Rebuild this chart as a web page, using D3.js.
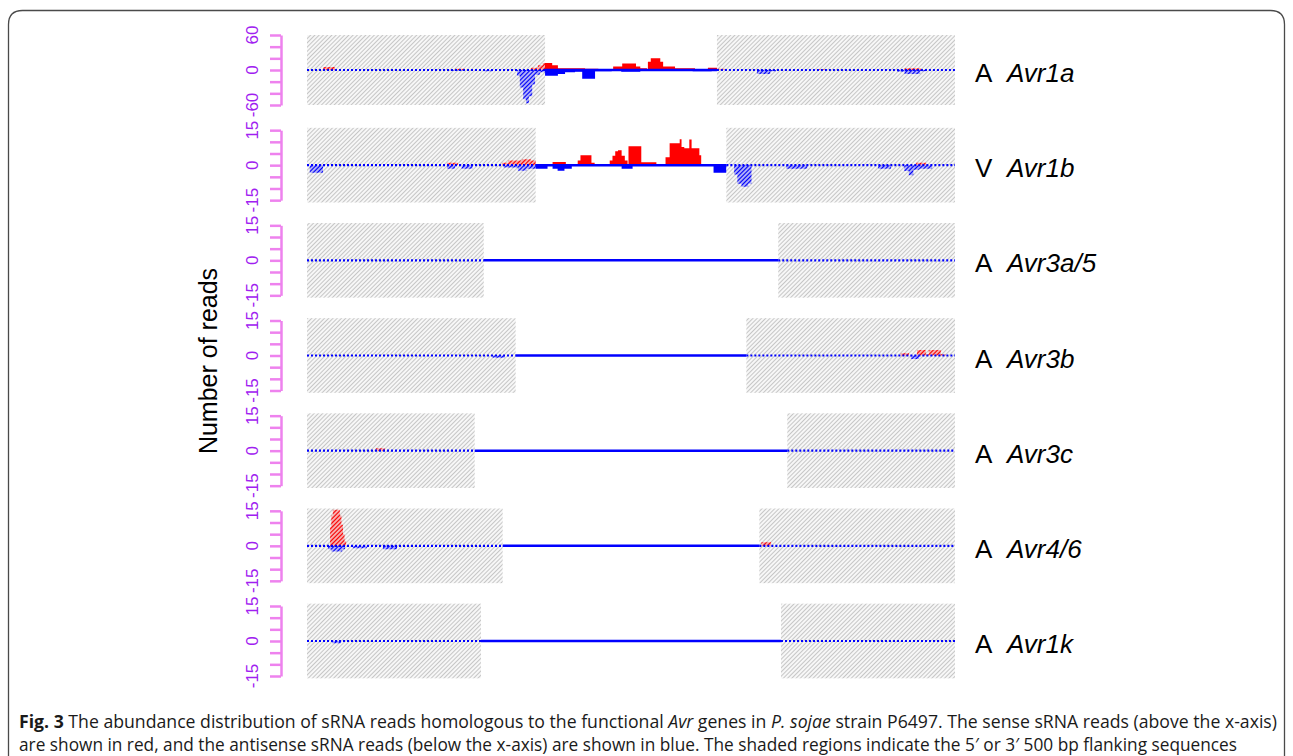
<!DOCTYPE html>
<html>
<head>
<meta charset="utf-8">
<script src="https://cdn.jsdelivr.net/npm/d3@7"></script>
<style>
  body { margin: 0; background: #fff; }
  svg { display: block; }
</style>
</head>
<body>
<div id="chart"></div>
<script>
// genes, their avirulence status and coding length (bp)
var genes = ["Avr1a", "Avr1b", "Avr3a/5", "Avr3b", "Avr3c", "Avr4/6", "Avr1k"];
var geneStatus = ["A", "V", "A", "A", "A", "A", "A"];
var geneLengths = [361, 417, 833, 553, 932, 656, 862];
var flankLength = 500;
var yMax = [60, 15, 15, 15, 15, 15, 15];
var shadeMax = [60, 16, 16, 16, 16, 16, 16];

// read profiles: [position (bp), reads] steps, sense above / antisense below the axis
var avr1aSense = [[0,0],[34,5],[59,0],[311,2],[332,0],[470,4],[485,8],[495,12],[515,8],[527,3],[584,2],[612,1],[643,6],[662,11],[691,6],[700,3],[714,1],[716,14],[722,20],[742,14],[748,6],[773,3],[815,1],[842,4],[861,2],[880,0],[1070,1],[1090,0],[1255,3],[1290,0],[1361,0]];
var avr1aAntisense = [[0,0],[300,-1],[330,0],[370,-2],[390,0],[441,-10],[447,-30],[454,-50],[460,-57],[466,-45],[473,-25],[479,-8],[489,-4],[500,-10],[527,-7],[542,-4],[563,-3],[578,-15],[605,-2],[640,-1],[660,-3],[700,-1],[810,-2],[850,-1],[861,0],[945,-7],[973,-2],[985,0],[1240,-3],[1255,-7],[1288,-2],[1300,0],[1361,0]];
var avr1bSense = [[0,0],[306,1],[330,0],[426,1],[440,2],[470,2.5],[490,2],[500,0],[537,1.4],[566,0],[592,2],[598,4.3],[622,1],[629,0],[662,2],[668,4],[674,6],[680,6.4],[688,4],[695,2],[701,0],[703,8.1],[731,1.3],[764,0],[784,3.4],[793,9.4],[815,11.1],[819,7.8],[825,7.3],[836,11],[841,7.3],[858,4.3],[862,0],[1332,1],[1354,0],[1417,0]];
var avr1bAntisense = [[0,0],[6,-3.3],[35,0],[306,-1.5],[324,0],[338,-1.5],[362,0],[430,-1],[461,-2.4],[480,-1.5],[500,-1.5],[526,0],[537,-1.5],[548,-2.4],[563,-1.5],[579,0],[688,-1.5],[712,0],[889,-3.3],[917,0],[934,-4],[941,-8],[950,-9.3],[965,-8],[972,0],[1048,-1.5],[1094,0],[1249,-1.5],[1277,0],[1306,-2.5],[1316,-4.3],[1326,-2],[1339,-1.5],[1367,0],[1417,0]];
var avr3a5Sense = [[0,0],[1833,0]];
var avr3a5Antisense = [[0,0],[588,-0.3],[1209,0],[1833,0]];
var avr3bSense = [[0,0],[1423,1],[1443,0],[1462,2.4],[1483,0.5],[1490,2.4],[1519,0.5],[1530,0],[1553,0]];
var avr3bAntisense = [[0,0],[445,-1],[474,0],[1447,-1.5],[1467,0],[1553,0]];
var avr3cSense = [[0,0],[205,1],[232,0],[1932,0]];
var avr3cAntisense = [[0,0],[1932,0]];
var avr46Sense = [[0,0],[59,8],[62,13],[66,15.5],[84,13],[88,9],[92,5],[96,2],[100,0],[1161,1.5],[1186,0],[1656,0]];
var avr46Antisense = [[0,0],[54,-1.5],[62,-2.4],[90,-1.5],[97,0],[117,-1],[153,0],[194,-1.5],[230,0],[1656,0]];
var avr1kSense = [[0,0],[1862,0]];
var avr1kAntisense = [[0,0],[72,-1],[98,0],[1862,0]];

var senseReads = [avr1aSense, avr1bSense, avr3a5Sense, avr3bSense, avr3cSense, avr46Sense, avr1kSense];
var antisenseReads = [avr1aAntisense, avr1bAntisense, avr3a5Antisense, avr3bAntisense, avr3cAntisense, avr46Antisense, avr1kAntisense];

var width = 1293, height = 756;
var svg = d3.select("#chart").append("svg")
	.attr("width", width)
	.attr("height", height)
	.style("font-family", "'Liberation Sans', Arial, sans-serif");

var defs = svg.append("defs");
function hatch(id, color, gap, lw) {
	var p = defs.append("pattern")
		.attr("id", id)
		.attr("patternUnits", "userSpaceOnUse")
		.attr("width", gap).attr("height", gap)
		.attr("patternTransform", "rotate(45)");
	p.append("line")
		.attr("x1", gap / 2).attr("x2", gap / 2)
		.attr("y1", 0).attr("y2", gap)
		.attr("stroke", color).attr("stroke-width", lw);
}
hatch("hatchGrey", "#c6c6c6", 3, 1.3);
hatch("hatchRed", "#ff0000", 3, 1.6);
hatch("hatchBlue", "#0000ff", 3, 1.6);

// outer frame
svg.append("path")
	.attr("d", "M8.5,780 V24.5 Q8.5,10.5 22.5,10.5 H1270.5 Q1284.5,10.5 1284.5,24.5 V780")
	.attr("fill", "none").attr("stroke", "#4a4a4a").attr("stroke-width", 1.3);

var zeroY = d3.scalePoint().domain(genes).range([70, 641]);
var half = 35;
var xLeft = 307, xRight = 955, axisX = 281;

genes.forEach(function (gene, i) {
	var y0 = zeroY(gene);
	var total = geneLengths[i] + 2 * flankLength;
	var x = d3.scaleLinear().domain([0, total]).range([xLeft, xRight]);
	var y = d3.scaleLinear().domain([-yMax[i], yMax[i]]).range([y0 + half, y0 - half]);
	var g = svg.append("g").attr("class", "panel");

	var flanks = [[0, flankLength], [flankLength + geneLengths[i], total]];

	// shaded flanking regions
	g.selectAll("rect.shade").data(flanks).enter().append("rect")
		.attr("class", "shade")
		.attr("x", function (d) { return x(d[0]); })
		.attr("width", function (d) { return x(d[1]) - x(d[0]); })
		.attr("y", y(shadeMax[i]))
		.attr("height", y(-shadeMax[i]) - y(shadeMax[i]))
		.attr("fill", "url(#hatchGrey)");

	// clip paths
	var flankClip = defs.append("clipPath").attr("id", "flank" + i);
	flankClip.selectAll("rect").data(flanks).enter().append("rect")
		.attr("x", function (d) { return x(d[0]); })
		.attr("width", function (d) { return x(d[1]) - x(d[0]); })
		.attr("y", y0 - 60).attr("height", 120);
	defs.append("clipPath").attr("id", "gene" + i).append("rect")
		.attr("x", x(flankLength)).attr("width", x(flankLength + geneLengths[i]) - x(flankLength))
		.attr("y", y0 - 60).attr("height", 120);

	var area = d3.area()
		.x(function (d) { return x(d[0]); })
		.y0(y(0))
		.y1(function (d) { return y(d[1]); })
		.curve(d3.curveStepAfter);

	[[senseReads[i], "#ff0000", "url(#hatchRed)"], [antisenseReads[i], "#0000ff", "url(#hatchBlue)"]].forEach(function (s) {
		g.append("path").datum(s[0])
			.attr("d", area)
			.attr("fill", s[2])
			.attr("clip-path", "url(#flank" + i + ")");
		g.append("path").datum(s[0])
			.attr("d", area)
			.attr("fill", s[1])
			.attr("clip-path", "url(#gene" + i + ")");
	});

	// baseline: solid in gene, hatched-looking in flanks
	g.append("line")
		.attr("x1", x(flankLength)).attr("x2", x(flankLength + geneLengths[i]))
		.attr("y1", y(0)).attr("y2", y(0))
		.attr("stroke", "#0000ff").attr("stroke-width", 2.5);
	g.selectAll("line.flankZero").data(flanks).enter().append("line")
		.attr("class", "flankZero")
		.attr("x1", function (d) { return x(d[0]); })
		.attr("x2", function (d) { return x(d[1]); })
		.attr("y1", y(0)).attr("y2", y(0))
		.attr("stroke", "#0000ff").attr("stroke-width", 2.2)
		.attr("stroke-dasharray", "2,2");

	// y axis
	var axis = d3.axisLeft(y)
		.tickValues(d3.range(-yMax[i], yMax[i] + 0.001, yMax[i] / 3))
		.tickSize(11).tickSizeOuter(0)
		.tickFormat("");
	var ag = g.append("g").attr("transform", "translate(" + axisX + ",0)").call(axis);
	ag.select(".domain").attr("stroke", "#ee82ee").attr("stroke-width", 2.5);
	ag.selectAll(".tick line").attr("stroke", "#ee82ee").attr("stroke-width", 2.5);

	g.selectAll("text.tickLabel").data([yMax[i], 0, -yMax[i]]).enter().append("text")
		.attr("class", "tickLabel")
		.attr("transform", function (d) { return "translate(258," + y(d) + ") rotate(-90)"; })
		.attr("text-anchor", "middle")
		.attr("fill", "#a020f0")
		.style("font-size", "17px")
		.text(function (d) { return d; });

	// gene label
	var lab = g.append("text")
		.attr("x", 975).attr("y", y0 + 12)
		.style("font-size", "26px").attr("fill", "#000");
	lab.append("tspan").text(geneStatus[i]);
	lab.append("tspan").attr("x", 1007).style("font-style", "italic").text(gene);
});

svg.append("text")
	.attr("transform", "translate(217,361) rotate(-90)")
	.attr("text-anchor", "middle")
	.style("font-size", "25px")
	.text("Number of reads");

// caption
var cap1 = svg.append("text")
	.attr("x", 19).attr("y", 728)
	.attr("textLength", 1258).attr("lengthAdjust", "spacingAndGlyphs")
	.style("font-family", "'Open Sans', sans-serif").style("font-size", "17.5px").attr("fill", "#1a1a1a");
cap1.append("tspan").style("font-weight", "bold").text("Fig. 3");
cap1.append("tspan").text(" The abundance distribution of sRNA reads homologous to the functional ");
cap1.append("tspan").style("font-style", "italic").text("Avr");
cap1.append("tspan").text(" genes in ");
cap1.append("tspan").style("font-style", "italic").text("P. sojae");
cap1.append("tspan").text(" strain P6497. The sense sRNA reads (above the x-axis)");

svg.append("text")
	.attr("x", 19).attr("y", 751)
	.attr("textLength", 1218).attr("lengthAdjust", "spacingAndGlyphs")
	.style("font-family", "'Open Sans', sans-serif").style("font-size", "17.5px").attr("fill", "#1a1a1a")
	.text("are shown in red, and the antisense sRNA reads (below the x-axis) are shown in blue. The shaded regions indicate the 5\u2032 or 3\u2032 500 bp flanking sequences");
</script>
</body>
</html>
